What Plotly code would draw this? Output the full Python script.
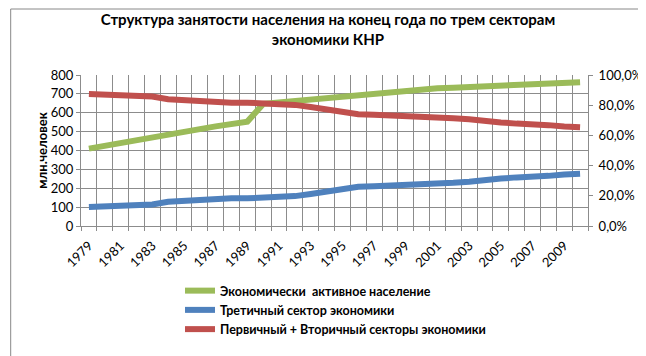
import plotly.graph_objects as go

years = list(range(1979, 2011))
active_population = [410, 424, 437, 453, 464, 482, 499, 513, 528, 543, 553,
                     647, 655, 662, 668, 675, 681, 690, 698, 706, 714, 721,
                     730, 733, 737, 744, 746, 750, 753, 756, 758, 761]
tertiary_share = [0.126, 0.131, 0.136, 0.135, 0.142, 0.161, 0.168, 0.172, 0.178, 0.183, 0.183,
                  0.185, 0.189, 0.198, 0.212, 0.230, 0.248, 0.260, 0.264, 0.267, 0.269, 0.275,
                  0.277, 0.286, 0.293, 0.306, 0.314, 0.322, 0.324, 0.332, 0.341, 0.346]
primary_secondary_share = [round(1 - v, 3) for v in tertiary_share]
label_years = list(range(1979, 2011, 2))

names = ["Экономически  активное население",
         "Третичный сектор экономики",
         "Первичный + Вторичный секторы экономики"]
colors = ["#9BBB59", "#4F81BD", "#C0504D"]

FONT = "Lato, Carlito, 'Liberation Sans', sans-serif"
W, H = 646, 356
L, R, T, B = 73, 61, 67, 138
pw, ph = W - L - R, H - T - B

fig = go.Figure()
fig.add_trace(go.Scatter(x=years, y=active_population, name=names[0], mode="lines",
                         line=dict(color=colors[0], width=6), yaxis="y"))
fig.add_trace(go.Scatter(x=years, y=tertiary_share, name=names[1], mode="lines",
                         line=dict(color=colors[1], width=6), yaxis="y2"))
fig.add_trace(go.Scatter(x=years, y=primary_secondary_share, name=names[2], mode="lines",
                         line=dict(color=colors[2], width=6), yaxis="y2"))

grid = "#8C8C8C"
fig.update_layout(
    width=W, height=H,
    margin=dict(l=L, r=R, t=T, b=B),
    paper_bgcolor="white", plot_bgcolor="white",
    separators=", ",
    font=dict(family=FONT, size=12, color="#000000"),
    title=dict(text="<b>Структура занятости населения на конец года по трем секторам<br>экономики КНР</b>",
               x=320 / W, xref="container", xanchor="center",
               y=1 - 17 / H, yref="container", yanchor="top",
               font=dict(family=FONT, size=15, color="#000000")),
    xaxis=dict(range=[1978.5, 2010.5], tickmode="array", tickvals=label_years,
               ticktext=[str(y) for y in label_years], tickangle=-45, showgrid=False,
               ticks="", showline=True, linecolor=grid, linewidth=1, zeroline=False,
               tickfont=dict(size=13), ticklabelstandoff=6,
               minor=dict(tickmode="linear", tick0=1978.5, dtick=1, showgrid=True,
                          gridcolor=grid, gridwidth=1, ticks="outside", ticklen=4,
                          tickcolor=grid)),
    yaxis=dict(range=[0, 800], dtick=100, showgrid=True, gridcolor=grid, gridwidth=1,
               ticks="outside", ticklen=4, tickcolor=grid, showline=True, linecolor=grid,
               zeroline=False, tickfont=dict(size=13),
               title=dict(text="<b>млн.человек</b>", font=dict(size=13), standoff=0)),
    yaxis2=dict(range=[0, 1], dtick=0.2, tickformat=".1%", overlaying="y", side="right",
                showgrid=False, ticks="outside", ticklen=4, tickcolor=grid, showline=True,
                linecolor=grid, zeroline=False, tickfont=dict(size=13), ticklabelstandoff=3),
    legend=dict(x=(173 - L) / pw, xanchor="left", y=(H - B - 268) / ph, yanchor="top",
                orientation="v", itemwidth=30, font=dict(size=12.5, family=FONT),
                bgcolor="rgba(0,0,0,0)", tracegroupgap=0),
    showlegend=True,
)
fig.update_layout(legend_font_weight="bold")

fig.add_shape(type="rect", xref="paper", yref="paper",
              x0=(2 - L) / pw, x1=(644 - L) / pw,
              y0=(H - B - 354) / ph, y1=(H - B - 1) / ph,
              line=dict(color="#888888", width=1), fillcolor="rgba(0,0,0,0)", layer="below")

fig.write_html("out.html")
